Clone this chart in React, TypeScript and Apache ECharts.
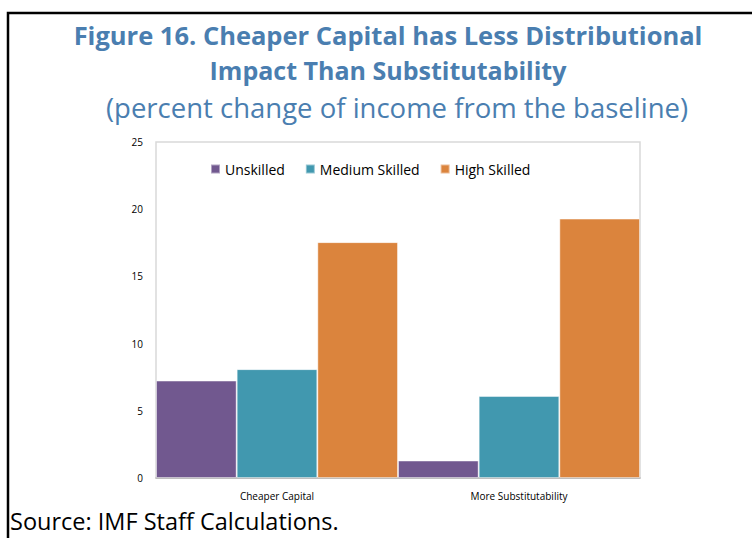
import React, { useEffect, useRef } from "react";
import * as echarts from "echarts";

const categories = ["Cheaper Capital", "More Substitutability"];
const seriesNames = ["Unskilled", "Medium Skilled", "High Skilled"];
const unskilled = [7.25, 1.3];
const mediumSkilled = [8.1, 6.1];
const highSkilled = [17.55, 19.3];
const colors = ["#71588F", "#4198AF", "#DB843D"];
const yTicks = { min: 0, max: 25, interval: 5 };

export default function App() {
  const ref = useRef<HTMLDivElement>(null);
  useEffect(() => {
    if (!ref.current) return;
    const chart = echarts.init(ref.current, undefined, { renderer: "svg" });
    const values = [unskilled, mediumSkilled, highSkilled];
    chart.setOption({
      animation: false,
      backgroundColor: "#ffffff",
      textStyle: { fontFamily: "Open Sans" },
      grid: {
        left: 156,
        right: 112,
        top: 142,
        bottom: 60,
        show: true,
        borderColor: "#d9d9d9",
        borderWidth: 1.5,
        backgroundColor: "transparent",
      },
      legend: {
        left: 205,
        top: 157,
        icon: "rect",
        itemWidth: 9,
        itemHeight: 9,
        itemGap: 20,
        textStyle: { fontSize: 14, color: "#000", fontFamily: "Open Sans" },
        data: seriesNames,
      },
      xAxis: {
        type: "category",
        data: categories,
        axisLine: { show: true, lineStyle: { color: "#b3b3b3", width: 1.5 } },
        axisTick: { show: false },
        axisLabel: { fontSize: 10, color: "#000", margin: 13 },
      },
      yAxis: {
        type: "value",
        min: yTicks.min,
        max: yTicks.max,
        interval: yTicks.interval,
        splitLine: { show: false },
        axisLine: { show: false },
        axisTick: { show: false },
        axisLabel: { fontSize: 10, color: "#000", margin: 13 },
      },
      series: seriesNames.map((name, i) => ({
        name,
        type: "bar",
        data: values[i],
        barGap: "0%",
        barCategoryGap: "0%",
        itemStyle: {
          color: colors[i],
          borderColor: "rgba(255,255,255,0.45)",
          borderWidth: 1,
        },
      })),
      graphic: [
        {
          type: "rect",
          shape: { x: 8, y: 13, width: 800, height: 600 },
          style: { fill: "none", stroke: "#000", lineWidth: 2.5 },
          silent: true,
        },
        {
          type: "text",
          x: 388,
          y: 35,
          style: {
            text: "Figure 16. Cheaper Capital has Less Distributional",
            fill: "#4A7EB0",
            font: "bold 25.5px 'Open Sans'",
            textAlign: "center",
            textVerticalAlign: "middle",
          },
        },
        {
          type: "text",
          x: 388,
          y: 70,
          style: {
            text: "Impact Than Substitutability",
            fill: "#4A7EB0",
            font: "bold 25px 'Open Sans'",
            textAlign: "center",
            textVerticalAlign: "middle",
          },
        },
        {
          type: "text",
          x: 397,
          y: 107,
          style: {
            text: "(percent change of income from the baseline)",
            fill: "#4A7EB0",
            font: "27.5px 'Open Sans'",
            textAlign: "center",
            textVerticalAlign: "middle",
          },
        },
        {
          type: "text",
          x: 10,
          y: 521,
          style: {
            text: "Source: IMF Staff Calculations.",
            fill: "#000",
            font: "23.5px 'Open Sans'",
            textAlign: "left",
            textVerticalAlign: "middle",
          },
        },
      ],
    });
    return () => chart.dispose();
  }, []);
  return (
    <div
      ref={ref}
      style={{ position: "fixed", left: 0, top: 0, width: 752, height: 538 }}
    />
  );
}
